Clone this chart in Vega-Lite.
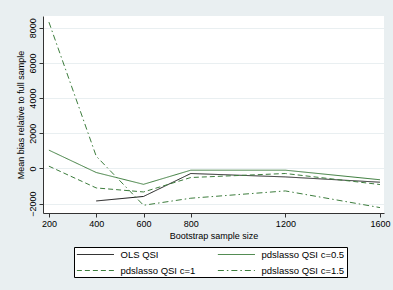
{
  "$schema": "https://vega.github.io/schema/vega-lite/v6.json",
  "width": 341,
  "height": 197,
  "autosize": {"type": "none"},
  "padding": {"left": 43, "top": 16, "right": 9, "bottom": 77},
  "background": "#e9eff1",
  "config": {
    "view": {"fill": "white", "stroke": null},
    "font": "Liberation Sans"
  },
  "data": {
    "values": [
      {"n": 400, "bias": -1846, "series": "OLS QSI"},
      {"n": 600, "bias": -1590, "series": "OLS QSI"},
      {"n": 800, "bias": -285, "series": "OLS QSI"},
      {"n": 1200, "bias": -479, "series": "OLS QSI"},
      {"n": 1600, "bias": -780, "series": "OLS QSI"},
      {"n": 200, "bias": 1043, "series": "pdslasso QSI c=0.5"},
      {"n": 400, "bias": -228, "series": "pdslasso QSI c=0.5"},
      {"n": 600, "bias": -900, "series": "pdslasso QSI c=0.5"},
      {"n": 800, "bias": -97, "series": "pdslasso QSI c=0.5"},
      {"n": 1200, "bias": -97, "series": "pdslasso QSI c=0.5"},
      {"n": 1600, "bias": -640, "series": "pdslasso QSI c=0.5"},
      {"n": 200, "bias": 131, "series": "pdslasso QSI c=1"},
      {"n": 400, "bias": -1105, "series": "pdslasso QSI c=1"},
      {"n": 600, "bias": -1333, "series": "pdslasso QSI c=1"},
      {"n": 800, "bias": -513, "series": "pdslasso QSI c=1"},
      {"n": 1200, "bias": -285, "series": "pdslasso QSI c=1"},
      {"n": 1600, "bias": -912, "series": "pdslasso QSI c=1"},
      {"n": 200, "bias": 8319, "series": "pdslasso QSI c=1.5"},
      {"n": 400, "bias": 700, "series": "pdslasso QSI c=1.5"},
      {"n": 600, "bias": -2091, "series": "pdslasso QSI c=1.5"},
      {"n": 800, "bias": -1690, "series": "pdslasso QSI c=1.5"},
      {"n": 1200, "bias": -1276, "series": "pdslasso QSI c=1.5"},
      {"n": 1600, "bias": -2222, "series": "pdslasso QSI c=1.5"}
    ]
  },
  "mark": {"type": "line", "strokeWidth": 1},
  "encoding": {
    "x": {
      "field": "n",
      "type": "quantitative",
      "scale": {"domain": [175, 1617], "nice": false, "zero": false},
      "axis": {
        "title": "Bootstrap sample size",
        "values": [200, 400, 600, 800, 1200, 1600],
        "format": "d",
        "grid": false,
        "labelFontSize": 9,
        "labelColor": "black",
        "labelPadding": 2,
        "tickSize": 4,
        "tickColor": "#333",
        "domainColor": "#333",
        "titleFontSize": 9,
        "titleFontWeight": "normal",
        "titleColor": "black",
        "titlePadding": 3,
        "labelFlush": false
      }
    },
    "y": {
      "field": "bias",
      "type": "quantitative",
      "scale": {"domain": [-2530, 8667], "nice": false, "zero": false},
      "axis": {
        "title": "Mean bias relative to full sample",
        "values": [-2000, 0, 2000, 4000, 6000, 8000],
        "format": "d",
        "grid": true,
        "gridColor": "#e9eff1",
        "gridWidth": 1,
        "labelAngle": -90,
        "labelAlign": "center",
        "labelBaseline": "bottom",
        "labelFontSize": 9,
        "labelColor": "black",
        "labelPadding": 2,
        "tickSize": 4,
        "tickColor": "#333",
        "domainColor": "#333",
        "titleFontSize": 9,
        "titleFontWeight": "normal",
        "titleColor": "black",
        "titlePadding": 3,
        "labelFlush": false
      }
    },
    "color": {
      "field": "series",
      "type": "nominal",
      "scale": {
        "domain": ["OLS QSI", "pdslasso QSI c=0.5", "pdslasso QSI c=1", "pdslasso QSI c=1.5"],
        "range": ["#1a1a1a", "#3d7d3d", "#3d7d3d", "#3d7d3d"]
      },
      "legend": {
        "title": null,
        "orient": "none",
        "direction": "horizontal",
        "legendX": 31,
        "legendY": 231,
        "columns": 2,
        "columnPadding": 19,
        "rowPadding": 6,
        "padding": 2,
        "strokeColor": "black",
        "fillColor": "white",
        "cornerRadius": 0,
        "symbolType": "M-1,0H7",
        "symbolSize": 85.6,
        "symbolStrokeWidth": 1,
        "labelOffset": 33.5,
        "labelFontSize": 9.5,
        "labelColor": "black",
        "labelLimit": 200
      }
    },
    "strokeDash": {
      "field": "series",
      "type": "nominal",
      "scale": {
        "domain": ["OLS QSI", "pdslasso QSI c=0.5", "pdslasso QSI c=1", "pdslasso QSI c=1.5"],
        "range": [[1, 0], [1, 0], [5, 3], [6, 3, 1.5, 3]]
      },
      "legend": {
        "title": null,
        "orient": "none",
        "direction": "horizontal",
        "legendX": 31,
        "legendY": 231,
        "columns": 2,
        "columnPadding": 19,
        "rowPadding": 6,
        "padding": 2,
        "strokeColor": "black",
        "fillColor": "white",
        "cornerRadius": 0,
        "symbolType": "M-1,0H7",
        "symbolSize": 85.6,
        "symbolStrokeWidth": 1,
        "labelOffset": 33.5,
        "labelFontSize": 9.5,
        "labelColor": "black",
        "labelLimit": 200
      }
    }
  }
}
